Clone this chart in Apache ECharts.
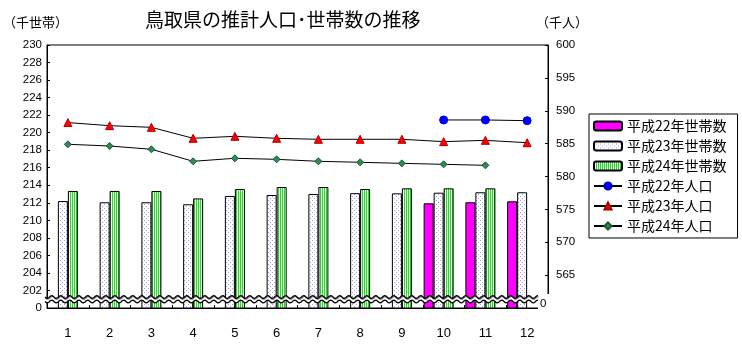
<!DOCTYPE html>
<html><head><meta charset="utf-8">
<script src="https://cdn.jsdelivr.net/npm/echarts@6/dist/echarts.min.js"></script>
<style>html,body{margin:0;padding:0;background:#fff}#c{width:742px;height:344px}</style>
</head><body><div id="c"></div>
<script>
// ---- data ----
const months = ['1','2','3','4','5','6','7','8','9','10','11','12'];
const households22 = [null,null,null,null,null,null,null,null,null,211.94,212.06,212.17];
const households23 = [212.2,212.06,212.06,211.83,212.78,212.89,213.0,213.1,213.08,213.15,213.2,213.2];
const households24 = [213.35,213.35,213.35,212.5,213.57,213.8,213.8,213.57,213.65,213.65,213.65,null];
const population22 = [null,null,null,null,null,null,null,null,null,588.6,588.6,588.49];
const population23 = [588.2,587.73,587.48,585.81,586.11,585.81,585.66,585.66,585.66,585.3,585.5,585.14];
const population24 = [584.9,584.64,584.14,582.31,582.77,582.61,582.31,582.16,582.0,581.85,581.7,null];
const spareSlot = [null,null,null,null,null,null,null,null,null,null,null,null];
const seriesNames = ['平成22年世帯数','平成23年世帯数','平成24年世帯数','平成22年人口','平成23年人口','平成24年人口'];
const titleText = '鳥取県の推計人口･世帯数の推移';
const leftAxisName = '（千世帯）';
const rightAxisName = '（千人）';
const breakValue = 201.0;

// ---- patterns ----
function dotPattern(){
  const c=document.createElement('canvas'); c.width=4; c.height=4;
  const g=c.getContext('2d'); g.fillStyle='#ffffff'; g.fillRect(0,0,4,4);
  g.fillStyle='#9a9aff'; g.fillRect(0,0,1,1); g.fillRect(2,2,1,1);
  return {image:c, repeat:'repeat'};
}
function stripePattern(){
  const c=document.createElement('canvas'); c.width=2; c.height=2;
  const g=c.getContext('2d'); g.fillStyle='#ffffff'; g.fillRect(0,0,2,2);
  g.fillStyle='#1ee01e'; g.fillRect(0,0,1,2);
  return {image:c, repeat:'repeat'};
}
const NUMF = '"Liberation Sans", Arial, sans-serif';
const JPF = '"Noto Sans CJK JP", sans-serif';

const chart = echarts.init(document.getElementById('c'), null, {renderer:'canvas'});
const barBase = {type:'bar', yAxisIndex:0, barWidth:10, barGap:'0%'};
const lineBase = {type:'line', yAxisIndex:1, lineStyle:{color:'#000',width:1}, connectNulls:false, z:5};

chart.setOption({
  animation:false,
  title:{text:titleText, left:145, top:10, padding:0,
    textStyle:{fontFamily:JPF, fontSize:19, fontWeight:'normal', color:'#000'}},
  graphic:[
    {type:'text', left:3, top:16, style:{text:leftAxisName, font:'13px '+JPF, fill:'#000'}},
    {type:'text', left:536, top:16, style:{text:rightAxisName, font:'13px '+JPF, fill:'#000'}}
  ],
  legend:{
    data:seriesNames, orient:'vertical', left:589, top:114,
    padding:[5,11,5,4], itemWidth:28, itemHeight:9, itemGap:6,
    borderColor:'#000', borderWidth:1, backgroundColor:'#fff',
    textStyle:{fontFamily:JPF, fontSize:14, color:'#000'}
  },
  grid:{left:47, top:45, width:501, height:263, show:true, borderColor:'#000', borderWidth:1, backgroundColor:'transparent'},
  xAxis:{type:'category', data:months, boundaryGap:true,
    axisLine:{lineStyle:{color:'#000'}},
    axisTick:{show:true, inside:true, length:3, lineStyle:{color:'#000'}},
    axisLabel:{fontFamily:NUMF, fontSize:13, color:'#000', margin:19},
    splitLine:{show:false}},
  yAxis:[
    {type:'value', min:200, max:230, interval:2, position:'left',
      axisLine:{show:true, lineStyle:{color:'#000'}},
      axisTick:{show:true, inside:true, length:3, lineStyle:{color:'#000'}},
      axisLabel:{fontFamily:NUMF, fontSize:11.5, color:'#000', margin:5,
        formatter:v=> v===200 ? '0' : String(v)},
      splitLine:{show:false}},
    {type:'value', min:560, max:600, interval:5, position:'right',
      axisLine:{show:true, lineStyle:{color:'#000'}},
      axisTick:{show:true, inside:true, length:3, lineStyle:{color:'#000'}},
      axisLabel:{fontFamily:NUMF, fontSize:11.5, color:'#000', margin:8,
        formatter:v=> v===560 ? '' : String(v)},
      splitLine:{show:false}}
  ],
  series:[
    Object.assign({name:seriesNames[0], data:households22, itemStyle:{color:'#ff00ff', borderColor:'#000', borderWidth:1}}, barBase),
    Object.assign({name:seriesNames[1], data:households23, itemStyle:{color:dotPattern(), borderColor:'#000', borderWidth:1}}, barBase),
    Object.assign({name:seriesNames[2], data:households24, itemStyle:{color:stripePattern(), borderColor:'#000', borderWidth:1}}, barBase),
    Object.assign({name:'_spare', data:spareSlot, itemStyle:{color:'#fff'}}, barBase),
    Object.assign({name:seriesNames[3], data:population22, symbol:'circle', symbolSize:8,
      itemStyle:{color:'#0000ff', borderColor:'#0000cc', borderWidth:1}}, lineBase),
    Object.assign({name:seriesNames[4], data:population23, symbol:'triangle', symbolSize:8,
      itemStyle:{color:'#ff0000', borderColor:'#b00000', borderWidth:1}}, lineBase),
    Object.assign({name:seriesNames[5], data:population24, symbol:'diamond', symbolSize:7,
      itemStyle:{color:'#2e8b57', borderColor:'#1a5a36', borderWidth:1}}, lineBase),
    {type:'custom', name:'_break', coordinateSystem:'cartesian2d', xAxisIndex:0, yAxisIndex:0,
      data:[[0, breakValue]], z:20, silent:true, clip:false,
      renderItem:function(params, api){
        const cs = params.coordSys;
        const yMid = api.coord([0, breakValue])[1];
        const x0 = cs.x - 2, x1 = cs.x + cs.width - 10;
        const amp = 1.4, period = 9, sep = 4.5;
        const top=[], bot=[];
        for(let x=x0; x<=x1+0.01; x+=1){
          const dy = amp*Math.sin((x-x0)/period*2*Math.PI);
          top.push([x, yMid - sep/2 + dy]);
          bot.push([x, yMid + sep/2 + dy]);
        }
        const bottom = cs.y + cs.height;
        return {type:'group', children:[
          {type:'rect', shape:{x:x1, y:yMid-sep/2-3, width:cs.x+cs.width-x1+4, height:bottom-(yMid-sep/2-3)+2}, style:{fill:'#fff'}},
          {type:'polygon', shape:{points:top.concat(bot.slice().reverse())}, style:{fill:'#fff'}},
          {type:'polyline', shape:{points:top.map(p=>[p[0]+0.5,p[1]+1])}, style:{stroke:'#888', lineWidth:1.2, fill:null}},
          {type:'polyline', shape:{points:top}, style:{stroke:'#000', lineWidth:1.3, fill:null}},
          {type:'polyline', shape:{points:bot}, style:{stroke:'#000', lineWidth:1.3, fill:null}},
          {type:'text', style:{text:'0', x:x1+2, y:yMid+5, font:'11.5px '+NUMF, fill:'#000', textVerticalAlign:'middle'}}
        ]};
      }}
  ]
});
</script>
</body></html>
